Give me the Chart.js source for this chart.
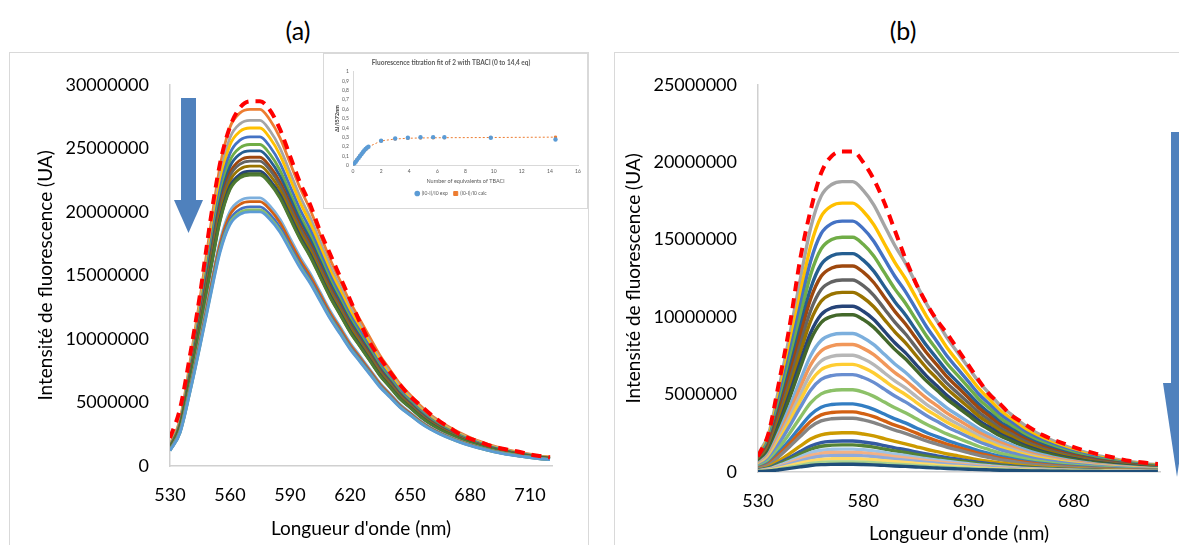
<!DOCTYPE html>
<html>
<head>
<meta charset="utf-8">
<script src="https://cdn.jsdelivr.net/npm/chart.js@4.4.0/dist/chart.umd.min.js"></script>
<style>
  body { margin: 0; background: #fff; font-family: Lato, sans-serif; }
  #page { position: relative; width: 1179px; height: 545px; overflow: hidden; background: #fff; }
  .frame { position: absolute; border: 1px solid #d9d9d9; }
  .panel-title { position: absolute; font-size: 25px; color: #000; transform: translateX(-50%); line-height: 30px; }
  .box { position: absolute; }
  .box canvas { display: block; }
  svg { position: absolute; left: 0; top: 0; }
</style>
</head>
<body>
<div id="page">
  <div class="panel-title" style="left:298px; top:15px;">(a)</div>
  <div class="panel-title" style="left:903px; top:15px;">(b)</div>
  <div class="frame" style="left:9px; top:52px; width:578px; height:520px;"></div>
  <div class="frame" style="left:614px; top:52px; width:600px; height:520px;"></div>

  <div class="box" style="left:10px; top:53px; width:578px; height:492px;"><canvas id="chartA"></canvas></div>
  <div class="box" style="left:615px; top:53px; width:564px; height:492px;"><canvas id="chartB"></canvas></div>
  <div class="box" style="left:323px; top:53px; width:263px; height:154px; background:#fff; border:1px solid #d9d9d9;"><canvas id="inset"></canvas></div>

  <svg width="1179" height="545">
    <!-- arrow (a) -->
    <rect x="181" y="98" width="15" height="103" fill="#4f81bd"/>
    <polygon points="174,200 203,200 188.5,233" fill="#4f81bd"/>
    <!-- arrow (b) -->
    <rect x="1171" y="132" width="13" height="252" fill="#4f81bd"/>
    <polygon points="1163,383 1191,383 1177,477" fill="#4f81bd"/>
  </svg>
</div>

<script>
// wavelength grid (nm)
const wavelengths = [530, 535, 540, 545, 550, 555, 560, 565, 570, 575, 580, 585, 590, 595, 600,
  605, 610, 615, 620, 625, 630, 635, 640, 645, 650, 655, 660, 665, 670, 675, 680, 685, 690,
  695, 700, 705, 710, 715, 720];

// emission profile of one trace, normalised to its maximum
const bandShape = [0.06, 0.13, 0.29, 0.47, 0.66, 0.84, 0.95, 0.99, 1.0, 1.0, 0.97, 0.92, 0.85,
  0.78, 0.72, 0.65, 0.58, 0.52, 0.46, 0.41, 0.36, 0.31, 0.27, 0.23, 0.20, 0.17, 0.145, 0.125,
  0.108, 0.093, 0.08, 0.069, 0.059, 0.051, 0.044, 0.038, 0.033, 0.028, 0.025];

// (a) maxima of each trace (UA) and their colours
const peaksA = [28070000, 27200000, 26600000, 25900000, 25300000, 24800000, 24300000, 24000000,
  23600000, 23200000, 23000000, 22900000, 21100000, 20800000, 20400000, 20150000, 20000000];
const colorsA = ["#ED7D31", "#A5A5A5", "#FFC000", "#4472C4", "#70AD47", "#255E91", "#9E480E",
  "#636363", "#997300", "#264478", "#43682B", "#4E7A32", "#7CAFDD", "#D26012", "#4472C4",
  "#8CC168", "#5B9BD5"];
// (a) red dashed envelope (UA)
const envelopeA = [2200000, 4500000, 8700000, 13500000, 19100000, 23800000, 26700000, 28200000,
  28700000, 28700000, 28000000, 26500000, 24400000, 22300000, 20600000, 18500000, 16700000,
  14900000, 13100000, 11300000, 9700000, 8500000, 7400000, 6400000, 5500000, 4800000, 4100000,
  3500000, 3000000, 2500000, 2150000, 1900000, 1600000, 1400000, 1250000, 1100000, 900000,
  780000, 680000];

// (b) maxima of each trace (UA) and their colours
const peaksB = [18750000, 17360000, 16200000, 15160000, 14100000, 13300000, 12400000, 11600000,
  10700000, 10150000, 8940000, 8230000, 7540000, 6950000, 6290000, 5310000, 4400000, 3880000,
  3470000, 2530000, 2000000, 1750000, 1480000, 1270000, 1070000, 860000, 650000, 500000];
const colorsB = ["#A5A5A5", "#FFC000", "#4472C4", "#70AD47", "#255E91", "#9E480E", "#636363",
  "#997300", "#264478", "#43682B", "#7CAFDD", "#F1975A", "#B7B7B7", "#FFCD33", "#698ED0",
  "#8CC168", "#327DC2", "#D26012", "#848484", "#CC9A00", "#335AA1", "#548235", "#9DC3E6",
  "#F4B183", "#8FAADC", "#FFD966", "#A9D18E", "#1F4E79"];
// (b) red dashed envelope (UA)
const envelopeB = [1000000, 2500000, 5800000, 9400000, 13700000, 16900000, 19300000, 20400000,
  20700000, 20700000, 20000000, 18900000, 17400000, 15600000, 13800000, 12200000, 10900000,
  9800000, 8900000, 7900000, 6900000, 5900000, 5000000, 4400000, 3700000, 3250000, 2800000,
  2400000, 2100000, 1850000, 1600000, 1400000, 1200000, 1050000, 900000, 750000, 660000,
  580000, 520000];

const xTicksA = [530, 560, 590, 620, 650, 680, 710];
const yTicksA = [0, 5000000, 10000000, 15000000, 20000000, 25000000, 30000000];
const xTicksB = [530, 580, 630, 680];
const yTicksB = [0, 5000000, 10000000, 15000000, 20000000, 25000000];

// inset: titration fit
const eqExp = [0, 0.1, 0.2, 0.3, 0.4, 0.5, 0.6, 0.7, 0.8, 0.9, 1.0, 1.1, 2.0, 3.0, 3.9, 4.8,
  5.7, 6.5, 9.8, 14.4];
const ratioExp = [0, 0.02, 0.04, 0.06, 0.08, 0.10, 0.12, 0.14, 0.16, 0.175, 0.19, 0.20, 0.263,
  0.288, 0.295, 0.30, 0.302, 0.30, 0.295, 0.277];
const ratioCalc = [0, 0.022, 0.044, 0.065, 0.085, 0.104, 0.122, 0.139, 0.155, 0.17, 0.185,
  0.198, 0.262, 0.282, 0.29, 0.293, 0.295, 0.296, 0.298, 0.302];
const insetXTicks = [0, 2, 4, 6, 8, 10, 12, 14, 16];
const insetYTicks = [0, 0.1, 0.2, 0.3, 0.4, 0.5, 0.6, 0.7, 0.8, 0.9, 1];
const insetYLabels = ["0", "0,1", "0,2", "0,3", "0,4", "0,5", "0,6", "0,7", "0,8", "0,9", "1"];

Chart.defaults.font.family = "Lato, 'Open Sans', sans-serif";
Chart.defaults.color = "#000";

function traceData(peak) {
  return wavelengths.map((w, i) => ({ x: w, y: bandShape[i] * peak }));
}

function spectraDatasets(peaks, colors, envelope, width) {
  const traces = peaks.map((p, i) => ({
    data: traceData(p),
    borderColor: colors[i],
    borderWidth: width,
    pointRadius: 0,
    cubicInterpolationMode: "monotone",
  }));
  // lower traces drawn over the upper ones, red dashed envelope on top of all
  return [
    {
      data: wavelengths.map((w, i) => ({ x: w, y: envelope[i] })),
      borderColor: "#FF0000",
      borderWidth: 4,
      borderDash: [10, 7],
      pointRadius: 0,
      cubicInterpolationMode: "monotone",
    },
  ].concat(traces.reverse());
}

function spectraOptions(xTicks, yTicks, yMax, yWidth, xHeight, pad, titlePadY, titlePadX) {
  return {
    responsive: true,
    maintainAspectRatio: false,
    animation: false,
    events: [],
    layout: { padding: pad },
    plugins: { legend: { display: false }, tooltip: { enabled: false } },
    scales: {
      x: {
        type: "linear",
        min: 530,
        max: 721,
        grid: { display: false, drawTicks: false },
        border: { display: true, color: "#d0d0d0", width: 1.5 },
        afterBuildTicks: (s) => { s.ticks = xTicks.map((v) => ({ value: v })); },
        afterFit: (s) => { s.height = xHeight; },
        ticks: { font: { size: 18 }, padding: 18, maxRotation: 0, callback: (v) => String(v) },
        title: { display: true, text: "Longueur d'onde (nm)", font: { size: 19 }, padding: { top: 0, bottom: titlePadX } },
      },
      y: {
        min: 0,
        max: yMax,
        grid: { display: false, drawTicks: false },
        border: { display: true, color: "#d0d0d0", width: 1.5 },
        afterBuildTicks: (s) => { s.ticks = yTicks.map((v) => ({ value: v })); },
        afterFit: (s) => { s.width = yWidth; },
        ticks: { font: { size: 18 }, padding: 21, callback: (v) => String(v) },
        title: { display: true, text: "Intensité de fluorescence (UA)", font: { size: 19 }, padding: { top: titlePadY, bottom: 0 } },
      },
    },
  };
}

new Chart(document.getElementById("chartA"), {
  type: "line",
  data: { datasets: spectraDatasets(peaksA, colorsA, envelopeA, 2.8) },
  options: spectraOptions(xTicksA, yTicksA, 30000000, 160, 79,
    { top: 29, right: 36, bottom: 0, left: 0 }, 24, 5),
});

new Chart(document.getElementById("chartB"), {
  type: "line",
  data: { datasets: spectraDatasets(peaksB, colorsB, envelopeB, 3.4) },
  options: spectraOptions(xTicksB, yTicksB, 25000000, 143, 73,
    { top: 20, right: 19, bottom: 0, left: 0 }, 7, 0),
});

new Chart(document.getElementById("inset"), {
  type: "line",
  data: {
    datasets: [
      {
        label: "(I0-I)/I0 exp",
        data: eqExp.map((x, i) => ({ x, y: ratioExp[i] })),
        showLine: false,
        pointRadius: 2.2,
        pointStyle: "circle",
        backgroundColor: "#5B9BD5",
        borderColor: "#5B9BD5",
        borderWidth: 0,
      },
      {
        label: "(I0-I)/I0 calc",
        data: eqExp.map((x, i) => ({ x, y: ratioCalc[i] })),
        borderColor: "#ED7D31",
        backgroundColor: "#ED7D31",
        borderWidth: 1,
        borderDash: [2, 2],
        pointRadius: 1.5,
        pointStyle: "rect",
      },
    ],
  },
  options: {
    responsive: true,
    maintainAspectRatio: false,
    animation: false,
    events: [],
    layout: { padding: { top: 0, right: 9, bottom: 2, left: 0 } },
    plugins: {
      tooltip: { enabled: false },
      title: {
        display: true,
        text: "Fluorescence titration fit of 2 with TBACl (0 to 14,4 eq)",
        color: "#595959",
        font: { size: 6.5 },
        padding: { top: 5, bottom: 5 },
      },
      legend: {
        position: "bottom",
        labels: { color: "#595959", font: { size: 5 }, boxWidth: 4, boxHeight: 4, padding: 6, usePointStyle: true },
      },
    },
    scales: {
      x: {
        type: "linear",
        min: 0,
        max: 16,
        grid: { display: false, drawTicks: false },
        border: { display: true, color: "#d9d9d9" },
        afterBuildTicks: (s) => { s.ticks = insetXTicks.map((v) => ({ value: v })); },
        ticks: { color: "#595959", font: { size: 5 }, padding: 3, maxRotation: 0 },
        title: { display: true, text: "Number of equivalents of TBACl", color: "#595959", font: { size: 5.5 }, padding: { top: 1, bottom: 0 } },
      },
      y: {
        min: 0,
        max: 1,
        grid: { display: false, drawTicks: false },
        border: { display: true, color: "#d9d9d9" },
        afterBuildTicks: (s) => { s.ticks = insetYTicks.map((v) => ({ value: v })); },
        afterFit: (s) => { s.width = 29; },
        ticks: {
          color: "#595959",
          font: { size: 5 },
          padding: 4,
          callback: (v) => insetYLabels[insetYTicks.indexOf(Math.round(v * 10) / 10)],
        },
        title: { display: true, text: "ΔI/I572nm", color: "#404040", font: { size: 5.5, weight: "bold" }, padding: { top: 10, bottom: 0 } },
      },
    },
  },
});
</script>
</body>
</html>
